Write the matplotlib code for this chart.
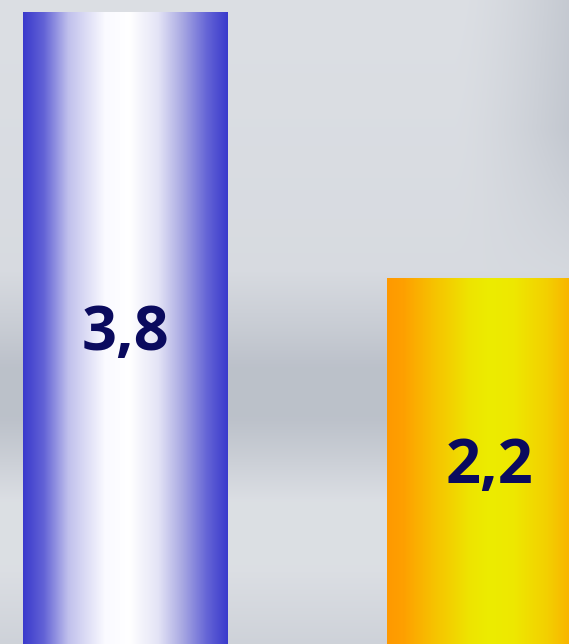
"""Two gradient bars on a brushed-metal background."""

import matplotlib

matplotlib.use("Agg")
import matplotlib.pyplot as plt
import numpy as np
from matplotlib.colors import LinearSegmentedColormap, to_rgb

categories = ["A", "B"]
values = [3.8, 2.2]
labels = ["3,8", "2,2"]

W, H = 569, 644
fig = plt.figure(figsize=(W / 100, H / 100), dpi=100)

# background: metallic grey, darker band across the middle, darker right edge on top
bg_ax = fig.add_axes([0, 0, 1, 1])
bg_ax.axis("off")
ys = np.linspace(0, 1, H)[:, None]
xs = np.linspace(0, 1, W)[None, :]
stops_y = [0.0, 0.42, 0.50, 0.57, 0.65, 0.70, 0.78, 0.88, 1.0]
shade_y = [0.0, 0.02, 0.08, 0.14, 0.14, 0.09, 0.0, 0.0, 0.06]
shade = np.interp(ys[:, 0], stops_y, shade_y)[:, None] * np.ones((1, W))
right = np.clip((xs - 0.80) / 0.20, 0, 1) ** 1.5 * 0.10
top_mask = np.clip((0.45 - ys) / 0.25, 0, 1)
shade = shade + right * top_mask
base = np.array(to_rgb("#dcdfe4"))
dark = np.array(to_rgb("#bcc1ca"))
img = base[None, None, :] + (dark - base)[None, None, :] * (shade / 0.14)[:, :, None]
bg_ax.imshow(np.clip(img, 0, 1), aspect="auto", extent=[0, 1, 0, 1])
bg_ax.set_xlim(0, 1)
bg_ax.set_ylim(0, 1)

ax = fig.add_axes([0, 0, 1, 1])
ax.patch.set_alpha(0)
ax.axis("off")

x = np.arange(len(categories))
width = 0.563
bars = ax.bar(x, values, width=width, color=["#3c3ccc", "#ff9a00"], zorder=2)

blue_cmap = LinearSegmentedColormap.from_list(
    "blue",
    [(0.0, "#3a3acc"), (0.10, "#6262d6"), (0.22, "#c0c0ec"),
     (0.40, "#fafaff"), (0.52, "#ffffff"), (0.66, "#e4e4f6"),
     (0.78, "#a8a8e2"), (0.90, "#6464d6"), (1.0, "#3a3acc")],
)
orange_cmap = LinearSegmentedColormap.from_list(
    "orange",
    [(0.0, "#ff9900"), (0.08, "#fea000"), (0.22, "#f7c000"),
     (0.40, "#eee400"), (0.50, "#ecec00"), (0.62, "#eee800"),
     (0.78, "#f3d000"), (0.92, "#fbae00"), (1.0, "#ffa000")],
)
grad = np.linspace(0, 1, 256)[None, :]
for bar, cmap in zip(bars, [blue_cmap, orange_cmap]):
    x0, y0 = bar.get_x(), bar.get_y()
    im = ax.imshow(grad, cmap=cmap, aspect="auto", zorder=3,
                   extent=[x0, x0 + bar.get_width(), y0, y0 + bar.get_height()])
    im.set_clip_path(bar)

for xi, v, lab in zip(x, values, labels):
    ax.annotate(lab, (xi, v / 2), xytext=(0, -5), textcoords="offset points",
                ha="center", va="center", fontsize=44, fontweight="bold",
                family=["Open Sans", "DejaVu Sans"], color="#0a0a5e", zorder=4)

ax.set_xlim(-0.345, 1.218)
ax.set_ylim(0, 3.872)

fig.savefig("out.png", dpi=100)
